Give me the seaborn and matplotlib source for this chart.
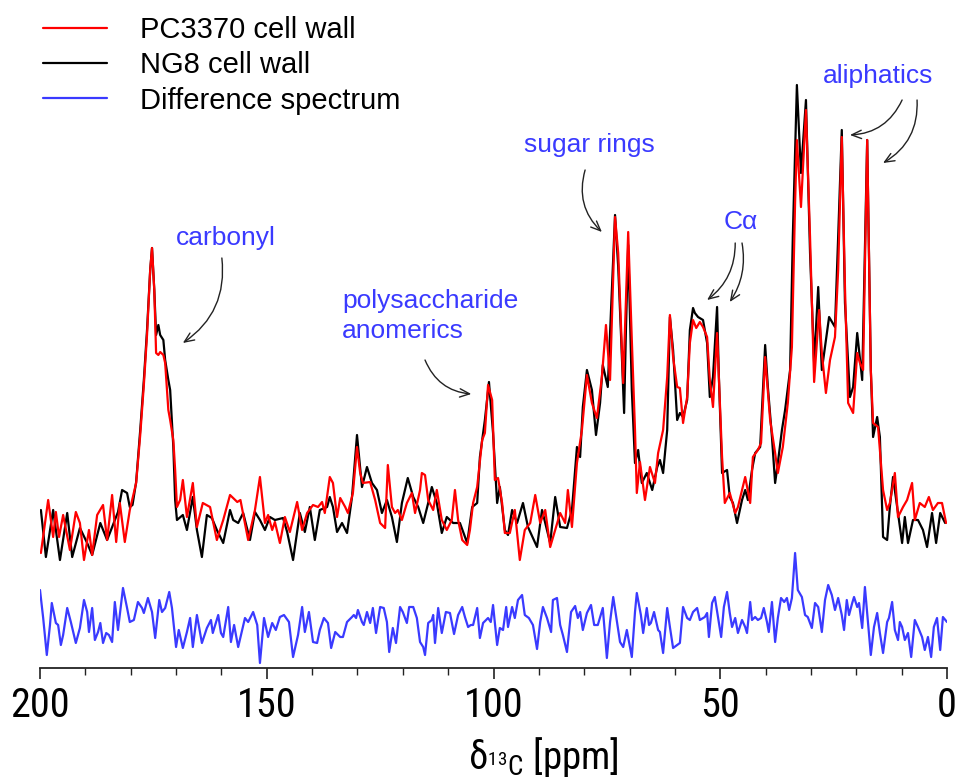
import numpy as np
import pandas as pd
import matplotlib
matplotlib.use("Agg")
import matplotlib.pyplot as plt
from matplotlib import font_manager
import seaborn as sns

# ---- data ----
ng8_ppm = [199.8, 198.7, 197.1, 195.6, 194.0, 192.9, 191.2, 189.6, 188.5, 186.7, 185.2, 183.5, 182.8, 181.9,
           180.8, 180.2, 179.6, 178.8, 177.9, 177.1, 176.4, 175.7, 175.3, 174.8, 174.4, 173.9, 173.5, 172.8,
           172.4, 171.7, 171.3, 170.6, 170.2, 169.8, 168.5, 167.6, 166.3, 165.4, 164.3, 163.2, 162.1, 161.0,
           159.6, 158.1, 157.4, 156.3, 155.2, 153.7, 152.6, 151.5, 150.4, 149.3, 148.2, 146.4, 145.5, 144.2,
           142.7, 141.6, 140.5, 139.4, 138.3, 136.7, 136.1, 135.4, 134.5, 133.4, 132.3, 131.2, 130.1, 129.0,
           127.9, 126.8, 125.7, 124.6, 123.5, 122.4, 121.3, 120.2, 118.9, 117.7, 116.6, 115.5, 114.4, 113.6,
           112.5, 111.4, 110.3, 108.9, 107.4, 105.8, 104.7, 103.6, 103.0, 101.9, 101.0, 100.1, 99.2, 98.6,
           97.5, 96.8, 95.9, 94.8, 93.5, 92.4, 90.4, 89.3, 88.2, 87.5, 86.4, 85.3, 83.8, 82.7, 81.6, 80.9,
           80.3, 79.4, 78.3, 77.4, 76.5, 75.9, 74.8, 73.9, 73.2, 72.5, 71.9, 71.2, 70.8, 70.3, 69.5, 68.8,
           68.1, 67.3, 66.2, 65.0, 63.9, 63.3, 62.6, 61.7, 61.1, 60.4, 59.5, 58.9, 58.2, 57.3, 56.7, 56.0,
           55.6, 54.9, 53.8, 52.9, 52.3, 51.6, 50.7, 50.3, 49.6, 48.5, 47.9, 47.2, 46.3, 45.2, 44.5, 43.9,
           43.0, 42.3, 41.2, 40.1, 39.5, 38.6, 37.9, 37.3, 36.4, 35.7, 34.6, 34.0, 33.1, 32.2, 31.1, 30.2,
           29.3, 28.4, 27.6, 26.9, 26.0, 24.7, 24.0, 23.2, 22.5, 21.4, 20.7, 19.8, 18.7, 17.6, 16.8, 16.3,
           15.4, 14.8, 14.1, 13.2, 12.6, 11.9, 11.0, 9.9, 9.3, 8.6, 7.5, 6.4, 5.3, 4.4, 3.3, 2.4, 1.5, 0.4]
ng8_int = [158, 111, 158, 108, 155, 111, 140, 125, 113, 145, 128, 148, 156, 178,
           175, 161, 163, 186, 238, 288, 338, 398, 420, 378, 333, 343, 333, 328,
           308, 288, 278, 221, 168, 148, 153, 138, 171, 138, 111, 153, 150, 138,
           125, 158, 148, 145, 155, 128, 156, 148, 138, 151, 148, 150, 136, 108,
           155, 136, 161, 128, 158, 161, 171, 161, 136, 145, 135, 171, 233, 181,
           201, 185, 178, 155, 168, 151, 126, 165, 190, 171, 161, 145, 165, 181,
           165, 135, 151, 145, 145, 125, 161, 165, 211, 248, 286, 235, 165, 181,
           138, 133, 158, 145, 165, 141, 121, 158, 138, 125, 171, 141, 140, 158, 221, 211,
           261, 298, 278, 233, 265, 303, 281, 378, 453, 401, 335, 255, 338, 423, 278, 205,
           218, 185, 195, 178, 201, 208, 195, 238, 351, 318, 248, 255, 251, 268, 338, 360,
           355, 351, 348, 325, 271, 291, 361, 291, 195, 198, 171, 165, 145, 168, 178, 168,
           198, 215, 221, 323, 281, 231, 185, 205, 238, 258, 298, 431, 583, 495, 568, 415,
           305, 381, 298, 321, 351, 341, 431, 538, 365, 271, 281, 335, 288, 528, 298, 231,
           251, 231, 131, 128, 161, 191, 161, 125, 151, 125, 148, 148, 138, 121, 155, 125, 155, 145]

pc_ppm = [199.8, 198.2, 197.1, 196.5, 195.8, 194.9, 193.4, 192.1, 191.2, 190.3, 189.2, 188.5, 187.4, 186.1,
          185.2, 184.1, 183.2, 182.4, 181.3, 180.2, 178.8, 177.9, 177.1, 176.4, 175.7, 175.3, 174.8, 174.4,
          173.9, 173.5, 172.8, 172.4, 171.7, 171.3, 170.6, 170.2, 169.8, 169.1, 168.5, 167.6, 166.3, 165.4,
          164.1, 162.5, 161.0, 159.6, 158.1, 156.5, 155.8, 154.1, 152.6, 151.5, 150.4, 149.7, 148.8, 148.2,
          147.1, 146.0, 144.9, 143.3, 142.2, 141.1, 139.8, 138.7, 137.8, 137.2, 136.1, 135.4, 134.5, 133.8,
          132.7, 132.1, 131.0, 130.1, 129.4, 128.8, 127.2, 126.1, 125.0, 123.9, 123.3, 122.4, 121.7, 121.1,
          120.2, 119.1, 118.0, 117.3, 116.2, 115.8, 115.1, 114.4, 113.3, 112.5, 111.4, 110.3, 109.2, 108.5,
          107.8, 106.9, 105.8, 105.2, 104.5, 103.6, 102.5, 101.9, 101.2, 100.3, 99.7, 99.0, 98.1, 97.5,
          96.4, 95.3, 94.2, 93.1, 91.9, 90.8, 89.7, 88.6, 87.5, 86.4, 85.3, 84.2, 83.6, 82.7, 81.6, 80.5,
          79.4, 78.3, 77.2, 76.1, 75.2, 74.3, 73.2, 72.5, 71.4, 70.3, 69.5, 68.8, 68.4, 67.7, 66.6, 65.5,
          64.4, 63.7, 62.6, 61.7, 61.1, 60.4, 59.5, 58.9, 58.2, 57.3, 56.7, 56.0, 55.3, 54.5, 53.8, 52.9,
          52.3, 51.6, 50.7, 49.6, 49.0, 47.9, 46.7, 46.1, 44.5, 43.4, 42.8, 41.7, 41.0, 40.1, 39.0, 37.9,
          37.3, 36.2, 35.1, 34.2, 33.5, 33.1, 32.2, 31.1, 30.2, 29.3, 28.2, 27.6, 26.7, 25.8, 24.7, 24.0,
          23.2, 22.5, 21.8, 20.7, 19.8, 19.2, 18.5, 17.6, 16.8, 16.3, 15.2, 14.1, 13.2, 12.6, 11.5, 10.8,
          9.7, 8.8, 7.7, 7.1, 6.0, 4.9, 4.0, 3.1, 2.0, 1.1, 0.2]
pc_int = [115, 168, 131, 156, 131, 153, 118, 156, 145, 108, 138, 113, 153, 163,
          128, 173, 126, 165, 126, 158, 185, 233, 283, 333, 398, 420, 378, 315,
          313, 316, 313, 305, 258, 248, 228, 198, 161, 168, 188, 151, 185, 141,
          165, 161, 128, 148, 173, 166, 168, 128, 158, 191, 145, 153, 138, 146,
          125, 151, 136, 166, 138, 155, 163, 161, 166, 155, 191, 185, 151, 170,
          161, 155, 175, 221, 195, 185, 186, 168, 145, 140, 203, 161, 155, 158,
          148, 165, 175, 155, 178, 195, 193, 168, 158, 178, 148, 138, 148, 178,
          148, 128, 123, 138, 165, 181, 228, 235, 283, 268, 188, 190, 165, 135,
          135, 158, 108, 138, 145, 173, 145, 158, 121, 138, 155, 145, 178, 141, 205, 238,
          293, 265, 250, 291, 343, 288, 451, 415, 285, 436, 328, 238, 175, 206, 168, 201,
          185, 215, 238, 291, 353, 311, 281, 280, 245, 271, 325, 348, 340, 346, 341, 331,
          288, 261, 335, 211, 165, 175, 155, 161, 191, 165, 211, 218, 225, 311, 248, 215,
          195, 221, 265, 321, 465, 528, 461, 558, 431, 286, 358, 315, 275, 308, 331, 398,
          531, 381, 265, 255, 315, 305, 298, 528, 298, 245, 241, 178, 158, 165, 195, 151,
          161, 168, 185, 148, 165, 161, 171, 158, 165, 165, 145]

diff_ppm = [200.0, 199.3, 198.5, 197.8, 197.4, 196.5, 196.0, 195.4, 194.9, 194.0, 193.2, 192.1, 191.2, 190.3,
            189.6, 189.2, 188.5, 187.9, 187.2, 186.7, 186.1, 185.4, 184.8, 184.1, 183.5, 182.8, 181.7, 180.8,
            180.2, 179.3, 178.4, 177.5, 177.1, 176.2, 175.3, 174.6, 173.7, 173.1, 172.4, 171.5, 170.9, 170.0,
            169.4, 168.5, 167.6, 166.9, 166.3, 165.4, 164.3, 163.2, 162.3, 161.9, 160.7, 160.1, 159.6, 158.5,
            157.9, 157.2, 156.3, 154.8, 154.1, 153.0, 152.1, 151.5, 150.6, 149.7, 148.8, 148.0, 147.1, 146.2,
            145.1, 144.2, 143.1, 142.2, 141.6, 140.7, 139.8, 138.9, 138.3, 137.4, 136.5, 135.8, 134.9, 133.8,
            133.2, 132.3, 131.2, 130.8, 130.3, 129.9, 129.0, 128.6, 127.9, 127.2, 126.6, 125.9, 125.0, 124.2,
            123.5, 123.0, 122.2, 121.5, 120.6, 120.0, 119.1, 118.6, 117.7, 116.9, 116.2, 115.5, 115.1, 114.4,
            113.6, 113.3, 112.9, 112.2, 111.4, 110.5, 109.6, 108.7, 107.8, 106.9, 106.3, 105.6, 105.0, 104.5,
            103.6, 103.0, 102.3, 101.2, 100.6, 100.1, 99.2, 98.6, 97.9, 97.2, 96.8, 95.9, 95.3, 94.6,
            93.7, 93.1, 92.2, 91.3, 90.4, 89.7, 89.1, 88.2, 87.3, 86.9, 86.0, 85.3, 84.7, 83.8,
            82.9, 82.0, 81.4, 80.9, 80.3, 79.4, 78.5, 77.8, 77.0, 75.9, 75.0, 74.3, 73.6, 73.0,
            72.1, 71.4, 70.6, 69.5, 68.8, 68.4, 67.5, 67.0, 66.2, 65.7, 65.3, 64.6, 63.7, 63.3,
            62.6, 61.7, 61.1, 60.4, 59.5, 58.9, 58.2, 57.3, 56.7, 56.0, 55.1, 54.5, 53.4, 52.9,
            52.5, 51.8, 51.2, 50.5, 49.8, 49.2, 48.5, 47.9, 47.4, 46.7, 46.1, 45.2, 44.5, 44.1,
            43.4, 43.0, 42.3, 41.7, 41.0, 40.4, 39.7, 39.3, 38.6, 37.9, 37.3, 36.6, 35.9, 35.3,
            34.8, 34.2, 33.5, 32.9, 32.0, 31.3, 30.7, 29.8, 29.1, 28.4, 27.6, 26.9, 26.2, 25.4,
            24.7, 24.0, 23.2, 22.7, 22.1, 21.6, 20.9, 20.5, 19.8, 19.4, 18.7, 18.1, 17.4, 16.8,
            16.1, 15.4, 14.8, 14.1, 13.2, 12.8, 12.1, 11.5, 10.8, 10.4, 9.9, 9.3, 8.6, 7.9,
            7.1, 6.4, 5.5, 4.9, 4.2, 3.5, 2.9, 2.2, 1.5, 0.9, 0.0]
diff_int = [78, 50, 13, 43, 65, 45, 43, 23, 33, 60, 46, 25, 40, 68,
            56, 36, 60, 28, 36, 45, 25, 35, 33, 26, 66, 38, 80, 60,
            46, 48, 66, 60, 55, 70, 56, 30, 68, 56, 60, 76, 60, 21,
            38, 20, 36, 50, 21, 53, 25, 40, 48, 35, 53, 35, 31, 61,
            26, 43, 21, 50, 46, 56, 43, 5, 50, 31, 45, 38, 51, 53,
            46, 11, 33, 61, 36, 56, 26, 25, 38, 50, 45, 20, 36, 31,
            31, 46, 51, 53, 50, 58, 46, 43, 56, 45, 60, 35, 61, 60,
            46, 16, 40, 25, 61, 56, 45, 61, 61, 50, 26, 21, 13, 45,
            48, 53, 25, 60, 35, 56, 55, 34, 53, 61, 51, 41, 43, 43,
            60, 30, 45, 50, 46, 63, 23, 40, 38, 61, 41, 61, 50, 68,
            73, 53, 50, 43, 19, 46, 61, 50, 36, 68, 70, 43, 33, 16,
            56, 62, 50, 56, 38, 55, 63, 43, 43, 60, 10, 46, 71, 53,
            26, 21, 38, 11, 56, 75, 53, 35, 60, 43, 45, 56, 38, 36,
            15, 60, 41, 20, 23, 25, 61, 50, 48, 56, 60, 48, 51, 55,
            31, 65, 71, 51, 31, 61, 76, 55, 41, 50, 35, 48, 41, 35,
            66, 48, 51, 48, 50, 60, 46, 36, 66, 26, 50, 70, 66, 70,
            58, 70, 115, 78, 71, 53, 51, 40, 65, 61, 36, 68, 83, 73,
            58, 70, 53, 38, 68, 53, 65, 71, 61, 65, 40, 81, 45, 13,
            41, 55, 35, 15, 46, 50, 66, 38, 28, 46, 41, 28, 35, 11,
            48, 41, 31, 18, 31, 11, 41, 50, 18, 51, 46]

# ---- fonts ----
sns.set_style("white")
names = {f.name for f in font_manager.fontManager.ttflist}
narrow = next((n for n in ["Liberation Sans Narrow", "Roboto Condensed", "Archivo Narrow"] if n in names),
              "Liberation Sans")
plt.rcParams["font.family"] = ["Liberation Sans", "DejaVu Sans"]
plt.rcParams["text.color"] = "black"
plt.rcParams["mathtext.fontset"] = "custom"
plt.rcParams["mathtext.rm"] = narrow
plt.rcParams["mathtext.it"] = narrow
plt.rcParams["mathtext.bf"] = narrow

fig = plt.figure(figsize=(9.72, 7.83), dpi=100)
ax = fig.add_axes([40 / 972, 115 / 783, 907 / 972, 668 / 783])

ng8 = pd.DataFrame({"ppm": ng8_ppm, "I": ng8_int})
pc = pd.DataFrame({"ppm": pc_ppm, "I": pc_int})
dif = pd.DataFrame({"ppm": diff_ppm, "I": diff_int})

blue = "#3a3aff"
sns.lineplot(data=ng8, x="ppm", y="I", color="black", lw=1.6, sort=False, estimator=None, ax=ax)
sns.lineplot(data=pc, x="ppm", y="I", color="#ff0000", lw=1.6, sort=False, estimator=None, ax=ax)
sns.lineplot(data=dif, x="ppm", y="I", color=blue, lw=1.6, sort=False, estimator=None, ax=ax)

ax.set_xlim(200, 0)
ax.set_ylim(0, 668)
for s in ["left", "right", "top"]:
    ax.spines[s].set_visible(False)
ax.spines["bottom"].set_linewidth(1.3)
ax.spines["bottom"].set_color("#222222")
ax.set_yticks([])
ax.set_ylabel("")
ax.set_xticks([200, 150, 100, 50, 0])
ax.set_xticks(np.arange(0, 201, 10), minor=True)
ax.tick_params(axis="x", which="major", bottom=True, length=8, width=1.2, direction="out", pad=5,
               labelsize=29, color="#222222", labelcolor="black")
ax.tick_params(axis="x", which="minor", bottom=True, length=5, width=1.0, direction="out", color="#222222")
for lab in ax.get_xticklabels():
    lab.set_family(narrow)
ax.set_xlabel(r"$\delta_{^{13}\mathrm{C}}$ [ppm]", fontsize=28, family=narrow, color="black")
ax.xaxis.set_label_coords(0.555, -0.10)
ax.xaxis.label.set_va("top")

# legend
h = ax.get_lines()
leg = fig.legend([h[1], h[0], h[2]], ["PC3370 cell wall", "NG8 cell wall", "Difference spectrum"],
                 loc="upper left", bbox_to_anchor=(43 / 972, 1 - 16 / 783), frameon=False,
                 fontsize=21, handlelength=2.2, handletextpad=1.13, labelspacing=0.25,
                 borderpad=0, borderaxespad=0, labelcolor="black")
for l in leg.get_lines():
    l.set_linewidth(1.6)

# labels and arrows
tk = dict(color=blue, fontsize=19)
ax.text(159.0, 430, "carbonyl", ha="center", va="center", **tk)
ax.text(133.4, 352, "polysaccharide\nanomerics", ha="left", va="center", linespacing=1.35, **tk)
ax.text(78.9, 523, "sugar rings", ha="center", va="center", **tk)
ax.text(45.4, 446, "C\u03b1", ha="center", va="center", **tk)
ax.text(15.2, 592, "aliphatics", ha="center", va="center", **tk)

arrows = [((159.9, 410), (168.5, 325), -0.3),
          ((115.1, 308), (104.9, 274), 0.3),
          ((79.8, 498), (76.1, 436), 0.3),
          ((46.7, 425), (52.9, 368), -0.25),
          ((45.2, 425), (47.9, 366), -0.2),
          ((9.9, 568), (21.4, 533), -0.3),
          ((6.6, 568), (14.1, 505), -0.3)]
for start, end, rad in arrows:
    ax.annotate("", xy=end, xytext=start,
                arrowprops=dict(arrowstyle="->,head_length=0.7,head_width=0.3", color="#222222",
                                lw=1.0, connectionstyle=f"arc3,rad={rad}", shrinkA=0, shrinkB=0))

fig.savefig("out.png", dpi=100)
